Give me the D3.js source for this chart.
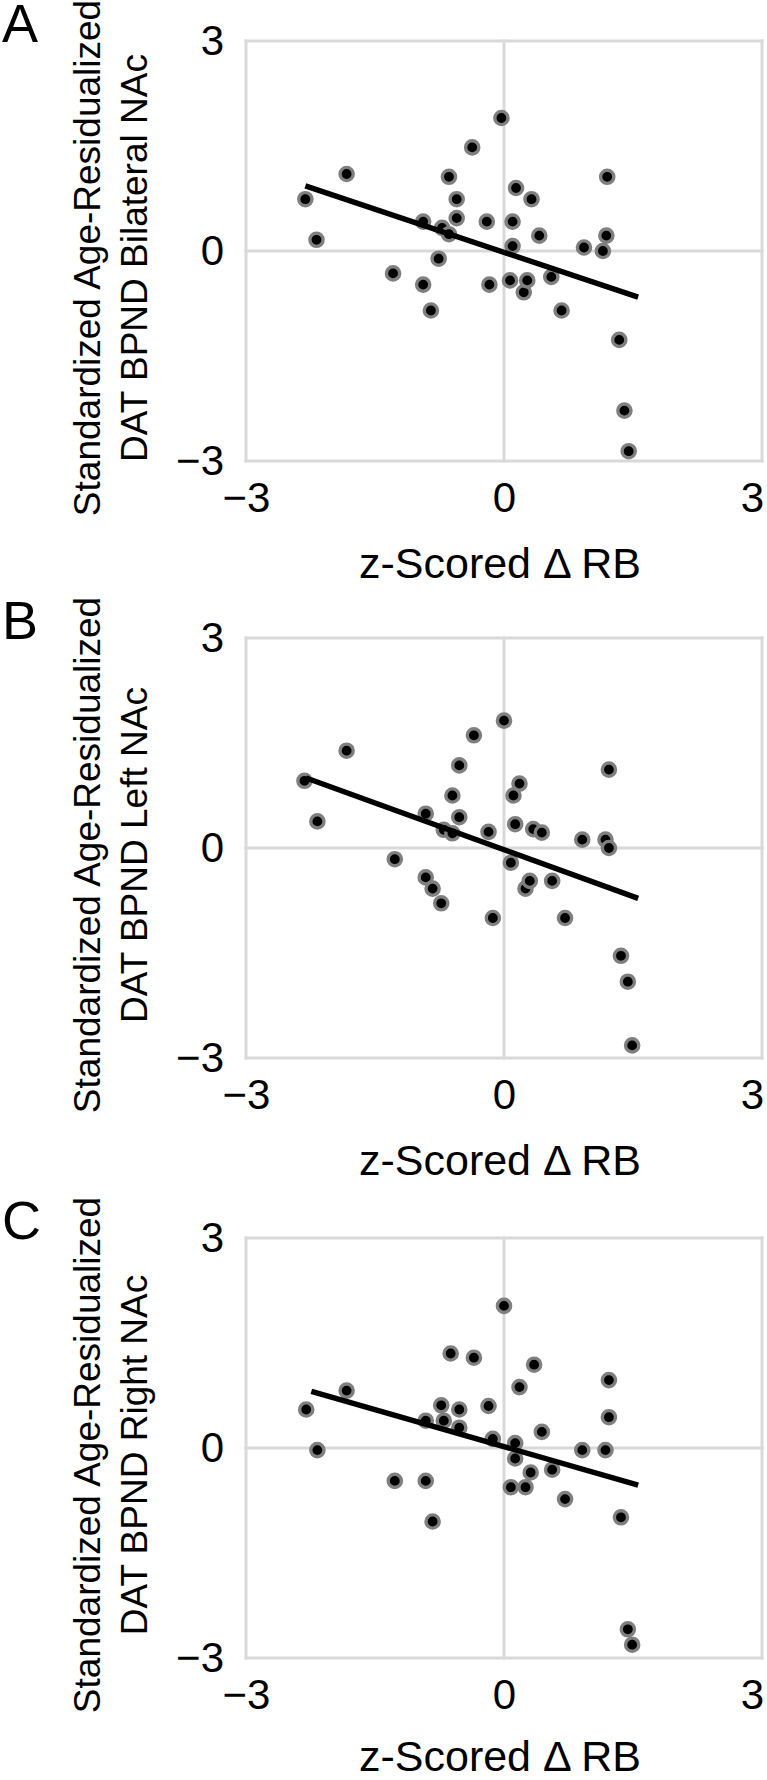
<!DOCTYPE html>
<html>
<head>
<meta charset="utf-8">
<script src="https://cdn.jsdelivr.net/npm/d3@7"></script>
<style>
  body { margin: 0; background: #fff; }
  svg { display: block; font-family: "Liberation Sans", Arial, sans-serif; }
</style>
</head>
<body>
<svg id="chart" width="767" height="1780"></svg>
<script>
/*
    Data
*/
var tickValues = [-3, 0, 3]
var panelLetters = ["A", "B", "C"]
var yTitleTop = "Standardized Age-Residualized"
var yTitleBottoms = ["DAT BPND Bilateral NAc", "DAT BPND Left NAc", "DAT BPND Right NAc"]
var xTitle = "z-Scored \u0394 RB"

// A - bilateral NAc
var xA = [-2.31, -2.18, -1.83, -1.29, -0.94, -0.94, -0.85, -0.76, -0.72, -0.64, -0.64, -0.55,
          -0.55, -0.37, -0.20, -0.17, -0.03, 0.07, 0.10, 0.10, 0.14, 0.23, 0.27, 0.32,
          0.41, 0.55, 0.67, 0.93, 1.15, 1.19, 1.20, 1.34, 1.40, 1.45]
var yA = [0.74, 0.16, 1.10, -0.32, 0.42, -0.48, -0.85, -0.11, 0.33, 0.24, 1.06, 0.74,
          0.47, 1.48, 0.42, -0.48, 1.90, -0.42, 0.42, 0.07, 0.90, -0.59, -0.42, 0.74,
          0.22, -0.37, -0.85, 0.05, 0.00, 0.22, 1.06, -1.27, -2.28, -2.86]

// B - left NAc
var xB = [-2.32, -2.17, -1.83, -1.27, -0.91, -0.91, -0.83, -0.73, -0.70, -0.60, -0.60, -0.52,
          -0.52, -0.35, -0.18, -0.13, 0.00, 0.08, 0.11, 0.13, 0.18, 0.25, 0.30, 0.34,
          0.44, 0.56, 0.71, 0.91, 1.18, 1.22, 1.22, 1.36, 1.44, 1.49]
var yB = [0.96, 0.38, 1.39, -0.16, 0.49, -0.42, -0.58, -0.79, 0.26, 0.21, 0.75, 1.18,
          0.44, 1.61, 0.23, -1.00, 1.82, -0.21, 0.75, 0.34, 0.92, -0.58, -0.47, 0.27,
          0.22, -0.47, -1.00, 0.12, 0.12, 0.00, 1.12, -1.54, -1.91, -2.82]

// C - right NAc
var xC = [-2.30, -2.17, -1.83, -1.27, -0.91, -0.91, -0.83, -0.73, -0.70, -0.62, -0.52, -0.52,
          -0.35, -0.18, -0.13, 0.00, 0.08, 0.13, 0.13, 0.18, 0.25, 0.31, 0.35, 0.44,
          0.56, 0.71, 0.91, 1.18, 1.22, 1.22, 1.36, 1.44, 1.49]
var yC = [0.55, -0.03, 0.82, -0.47, 0.39, -0.47, -1.05, 0.61, 0.39, 1.35, 0.55, 0.29,
          1.29, 0.60, 0.13, 2.03, -0.56, 0.07, -0.15, 0.87, -0.56, -0.35, 1.19, 0.23,
          -0.31, -0.73, -0.03, -0.03, 0.44, 0.97, -0.99, -2.59, -2.81]

// fitted lines, endpoints
var trendXA = [-2.31, 1.56], trendYA = [0.93, -0.66]
var trendXB = [-2.30, 1.56], trendYB = [1.00, -0.72]
var trendXC = [-2.24, 1.56], trendYC = [0.81, -0.53]

var panelX = [xA, xB, xC]
var panelY = [yA, yB, yC]
var trendX = [trendXA, trendXB, trendXC]
var trendY = [trendYA, trendYB, trendYC]

/*
    Layout
*/
var pageHeight = 1780
var plotLeft = 246
var plotRight = 762
var plotHeight = 420
var panelTops = [41, 638, 1238]

var svg = d3.select("#chart")

var xScale = d3.scaleLinear()
    .domain([-3, 3])
    .range([plotLeft, plotRight])

function fmt(d) {
    return d < 0 ? "\u2212" + (-d) : String(d)
}

function drawPanel(i) {
    var top = panelTops[i]
    var bottom = top + plotHeight

    var yScale = d3.scaleLinear()
        .domain([-3, 3])
        .range([bottom, top])

    var g = svg.append("g").attr("class", "panel")

    // gridlines at -3, 0, 3 make the frame too
    g.selectAll(".vgrid")
        .data(tickValues)
        .enter().append("line")
        .attr("x1", function(d) { return xScale(d) })
        .attr("x2", function(d) { return xScale(d) })
        .attr("y1", top)
        .attr("y2", bottom)
        .attr("stroke", "#d9d9d9")
        .attr("stroke-width", 3)
        .attr("stroke-linecap", "square")

    g.selectAll(".hgrid")
        .data(tickValues)
        .enter().append("line")
        .attr("x1", plotLeft)
        .attr("x2", plotRight)
        .attr("y1", function(d) { return yScale(d) })
        .attr("y2", function(d) { return yScale(d) })
        .attr("stroke", "#d9d9d9")
        .attr("stroke-width", 3)
        .attr("stroke-linecap", "square")

    // axes, only for the labels
    var yAxis = d3.axisLeft(yScale)
        .tickValues(tickValues)
        .tickSize(0)
        .tickPadding(22)
        .tickFormat(fmt)

    var xAxis = d3.axisBottom(xScale)
        .tickValues(tickValues)
        .tickSize(0)
        .tickPadding(21)
        .tickFormat(fmt)

    var ya = g.append("g")
        .attr("transform", "translate(" + plotLeft + ",0)")
        .call(yAxis)
    var xa = g.append("g")
        .attr("transform", "translate(0," + bottom + ")")
        .call(xAxis)

    ;[ya, xa].forEach(function(a) {
        a.select(".domain").remove()
        a.selectAll(".tick text")
            .attr("fill", "#000")
            .style("font-size", "42px")
            .style("font-family", "'Liberation Sans', Arial, sans-serif")
    })
    xa.selectAll(".tick text").attr("dy", "0.72em")
    xa.selectAll(".tick text").filter(function(d) { return d === 3 }).attr("dx", -10)

    // fit line
    var line = d3.line()
        .x(function(d) { return xScale(d[0]) })
        .y(function(d) { return yScale(d[1]) })

    // points
    var pts = d3.range(panelX[i].length).map(function(k) {
        return [panelX[i][k], panelY[i][k]]
    })
    g.selectAll(".dot")
        .data(pts)
        .enter().append("circle")
        .attr("cx", function(d) { return xScale(d[0]) })
        .attr("cy", function(d) { return yScale(d[1]) })
        .attr("r", 6.6)
        .attr("fill", "#000")
        .attr("stroke", "#7f7f7f")
        .attr("stroke-width", 3.4)

    g.append("path")
        .datum([[trendX[i][0], trendY[i][0]], [trendX[i][1], trendY[i][1]]])
        .attr("d", line)
        .attr("fill", "none")
        .attr("stroke", "#000")
        .attr("stroke-width", 5.5)

    // y title, two lines
    var mid = (top + bottom) / 2 + 7
    var yt = g.append("text")
        .attr("transform", "rotate(-90)")
        .attr("text-anchor", "middle")
        .style("font-size", "37px")
    yt.append("tspan").attr("x", -mid).attr("y", 100).text(yTitleTop)
    yt.append("tspan").attr("x", -mid).attr("y", 147).text(yTitleBottoms[i])

    // x title
    g.append("text")
        .attr("x", (plotLeft + plotRight) / 2 - 4)
        .attr("y", Math.min(bottom + 117, pageHeight - 9))
        .attr("text-anchor", "middle")
        .style("font-size", "43px")
        .text(xTitle)

    // panel letter
    g.append("text")
        .attr("x", 2)
        .attr("y", top + 1)
        .style("font-size", "54px")
        .text(panelLetters[i])
}

for (var i = 0; i < 3; i++) {
    drawPanel(i)
}
</script>
</body>
</html>
